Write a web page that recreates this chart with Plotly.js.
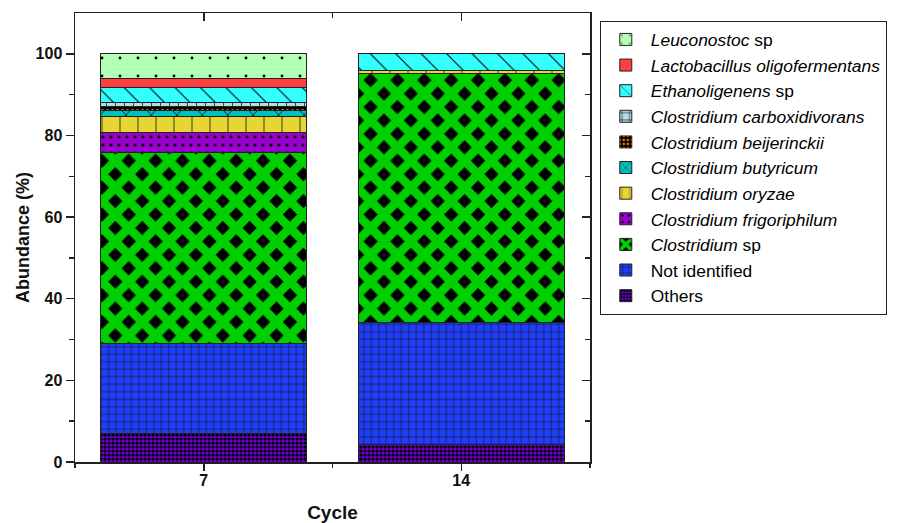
<!DOCTYPE html>
<html>
<head>
<meta charset="utf-8">
<script src="https://cdn.plot.ly/plotly-3.0.1.min.js"></script>
<style>html,body{margin:0;padding:0;background:#fff;}#chart{width:914px;height:523px;}</style>
</head>
<body>
<div id="chart"></div>
<script>
// Data (bottom of stack first)
const cycles = ["7", "14"];
const others = [7.1, 4.2];
const notIdentified = [22.0, 29.9];
const clostridiumSp = [46.8, 61.0];
const cFrigoriphilum = [4.8, 0];
const cOryzae = [4.0, 0.8];
const cButyricum = [1.4, 0];
const cBeijerinckii = [1.0, 0];
const cCarboxidivorans = [1.0, 0];
const ethanoligenensSp = [3.7, 4.1];
const lactobacillusOligo = [2.1, 0];
const leuconostocSp = [6.1, 0];

const yTickVals = [0, 20, 40, 60, 80, 100];
const yMinorVals = [10, 30, 50, 70, 90];

const FONT = "Liberation Sans, Arial, sans-serif";

function bar(name, y, bg, shape, fg, size, solidity) {
  const m = {color: bg, line: {color: '#222', width: 1}};
  if (shape) {
    m.pattern = {shape: shape, bgcolor: bg, fgcolor: fg, fgopacity: 1, size: size, solidity: solidity, fillmode: 'replace'};
  }
  return {type: 'bar', x: cycles, y: y, name: name, marker: m, hoverinfo: 'skip'};
}

const traces = [
  bar('Others', others, '#6a00c8', '.', '#000000', 4, 0.5),
  bar('Not identified', notIdentified, '#1f3fff', '+', '#1a1a40', 7.5, 0.2),
  bar('<i>Clostridium</i> sp', clostridiumSp, '#000000', 'x', '#00d000', 19, 0.72),
  bar('<i>Clostridium frigoriphilum</i>', cFrigoriphilum, '#9900cc', '.', '#000000', 8, 0.12),
  bar('<i>Clostridium oryzae</i>', cOryzae, '#e6d633', '|', '#000000', 18, 0.04),
  bar('<i>Clostridium butyricum</i>', cButyricum, '#00c0c0', 'x', '#000000', 18, 0.08),
  bar('<i>Clostridium beijerinckii</i>', cBeijerinckii, '#000000', '.', '#ff8000', 5, 0.3),
  bar('<i>Clostridium carboxidivorans</i>', cCarboxidivorans, '#b0e0e6', '+', '#000000', 9, 0.15),
  bar('<i>Ethanoligenens</i> sp', ethanoligenensSp, '#33ffff', '\\', '#000000', 18, 0.06),
  bar('<i>Lactobacillus oligofermentans</i>', lactobacillusOligo, '#ff4040', '', '', 0, 0),
  bar('<i>Leuconostoc</i> sp', leuconostocSp, '#b3ffb3', '.', '#000000', 18, 0.02),
  {type: 'scatter', x: [], y: [], xaxis: 'x2', yaxis: 'y', showlegend: false, hoverinfo: 'skip'},
  {type: 'scatter', x: [], y: [], xaxis: 'x3', yaxis: 'y', showlegend: false, hoverinfo: 'skip'},
  {type: 'scatter', x: [], y: [], xaxis: 'x', yaxis: 'y2', showlegend: false, hoverinfo: 'skip'}
];

const axLine = '#222';
const layout = {
  width: 914, height: 523,
  margin: {l: 75, r: 324, t: 13, b: 61},
  paper_bgcolor: '#fff', plot_bgcolor: '#fff',
  font: {family: FONT, color: '#000'},
  barmode: 'stack', bargap: 0.2,
  showlegend: true,
  legend: {
    x: 1.019, y: 0.983, xanchor: 'left', yanchor: 'top',
    traceorder: 'reversed',
    bordercolor: '#222', borderwidth: 1, bgcolor: '#fff',
    font: {family: FONT, size: 17.4, color: '#000'},
    itemwidth: 40, tracegroupgap: 0
  },
  xaxis: {
    type: 'category', range: [-0.5, 1.5],
    showline: true, linecolor: axLine, linewidth: 1.5,
    ticks: 'outside', ticklen: 3, tickwidth: 1.5, tickcolor: axLine,
    tickfont: {family: FONT, size: 16, weight: 'bold', color: '#111'},
    showgrid: false, zeroline: false,
    title: {text: '<b>Cycle</b>', font: {family: FONT, size: 19, color: '#111'}, standoff: 24}
  },
  xaxis2: {
    overlaying: 'x', anchor: 'y', side: 'bottom', type: 'linear', range: [-0.5, 1.5],
    showline: false, showgrid: false, zeroline: false, showticklabels: false,
    ticks: 'outside', tickvals: [0, 1], ticklen: 8, tickwidth: 1.5, tickcolor: axLine,
    minor: {tickvals: [-0.5, 0.5, 1.5], ticks: 'outside', ticklen: 5, tickwidth: 1.5, tickcolor: axLine, showgrid: false}
  },
  xaxis3: {
    overlaying: 'x', anchor: 'y', side: 'top', type: 'linear', range: [-0.5, 1.5],
    showline: true, linecolor: axLine, linewidth: 1.5,
    showgrid: false, zeroline: false, showticklabels: false,
    ticks: 'inside', tickvals: [0, 1], ticklen: 8, tickwidth: 1.5, tickcolor: axLine,
    minor: {tickvals: [0.5], ticks: 'inside', ticklen: 5, tickwidth: 1.5, tickcolor: axLine, showgrid: false}
  },
  yaxis: {
    range: [0, 110], tickvals: yTickVals,
    showline: true, linecolor: axLine, linewidth: 1.5,
    ticks: 'outside', ticklen: 8, tickwidth: 1.5, tickcolor: axLine,
    minor: {tickvals: yMinorVals, ticks: 'outside', ticklen: 5, tickwidth: 1.5, tickcolor: axLine, showgrid: false},
    tickfont: {family: FONT, size: 16, weight: 'bold', color: '#111'},
    showgrid: false, zeroline: false,
    title: {text: '<b>Abundance (%)</b>', font: {family: FONT, size: 18, color: '#111'}, standoff: 1}
  },
  yaxis2: {
    overlaying: 'y', anchor: 'x', side: 'right', range: [0, 110], tickvals: yTickVals,
    showline: true, linecolor: axLine, linewidth: 1.5,
    ticks: 'inside', ticklen: 8, tickwidth: 1.5, tickcolor: axLine,
    minor: {tickvals: yMinorVals, ticks: 'inside', ticklen: 5, tickwidth: 1.5, tickcolor: axLine, showgrid: false},
    showticklabels: false, showgrid: false, zeroline: false
  }
};

Plotly.newPlot('chart', traces, layout, {staticPlot: true, displayModeBar: false});
</script>
</body>
</html>
